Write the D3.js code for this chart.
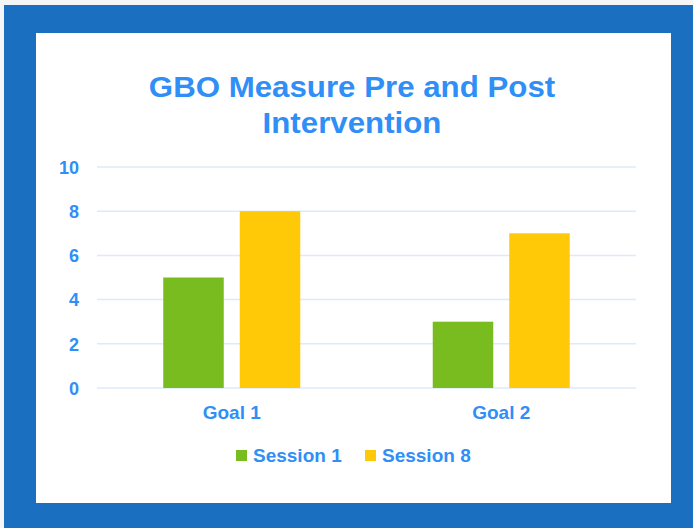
<!DOCTYPE html>
<html><head><meta charset="utf-8">
<script src="https://cdn.jsdelivr.net/npm/d3@7"></script>
<style>html,body{margin:0;padding:0;background:#f3f5f7;}svg{display:block;}</style>
</head><body>
<script>
const categories = ["Goal 1", "Goal 2"];
const seriesNames = ["Session 1", "Session 8"];
const session1 = [5, 3];
const session8 = [8, 7];
const yTicks = [0, 2, 4, 6, 8, 10];
const colors = ["#78BC20", "#FFC907"];
const titleLines = ["GBO Measure Pre and Post", "Intervention"];

const W = 693, H = 528;
const textBlue = "#2F8FF7";
const font = "'Liberation Sans', Arial, sans-serif";
const svg = d3.select("body").append("svg").attr("width", W).attr("height", H);

svg.append("rect").attr("x", 4).attr("y", 5).attr("width", W - 4).attr("height", H - 5).attr("fill", "#1B6FC1");
svg.append("rect").attr("x", 36).attr("y", 33).attr("width", 635).attr("height", 470).attr("fill", "#ffffff");

svg.append("g").attr("transform", "translate(352,0) scale(1.06,1)")
  .selectAll("text.title").data(titleLines).enter().append("text")
  .attr("x", 0).attr("y", (d, i) => 97 + i * 36)
  .attr("text-anchor", "middle").attr("font-family", font).attr("font-weight", "bold")
  .attr("font-size", 29.5).attr("fill", textBlue).text(d => d);

const x0 = d3.scaleBand().domain(categories).range([97, 636]);
const y = d3.scaleLinear().domain([0, 10]).range([388, 167]);
const barW = 60.5, gap = 16;
const x1 = d3.scaleOrdinal().domain(seriesNames).range([-(gap / 2 + barW), gap / 2]);

svg.selectAll("line.grid").data(yTicks).enter().append("line")
  .attr("x1", 97).attr("x2", 636).attr("y1", d => y(d)).attr("y2", d => y(d))
  .attr("stroke", "#DCEBFA").attr("stroke-width", 1.5);

const yAxis = d3.axisLeft(y).tickValues(yTicks).tickSize(0).tickPadding(0);
const ga = svg.append("g").attr("transform", "translate(79,0)").call(yAxis);
ga.select(".domain").remove();
ga.selectAll("text").attr("font-family", font).attr("font-weight", "bold").attr("font-size", 18)
  .attr("fill", textBlue).attr("dy", "0.35em");

const data = [session1, session8];
seriesNames.forEach((s, si) => {
  svg.selectAll("rect.s" + si).data(categories).enter().append("rect")
    .attr("x", (c) => x0(c) + x0.bandwidth() / 2 + x1(s))
    .attr("y", (c, i) => y(data[si][i]))
    .attr("width", barW)
    .attr("height", (c, i) => y(0) - y(data[si][i]))
    .attr("fill", colors[si]);
});

const xAxis = d3.axisBottom(x0).tickSize(0).tickPadding(0);
const gx = svg.append("g").attr("transform", "translate(0,419)").call(xAxis);
gx.select(".domain").remove();
gx.selectAll("text").attr("font-family", font).attr("font-weight", "bold").attr("font-size", 19)
  .attr("fill", textBlue).attr("dy", 0);

const legendX = [236, 365];
const lg = svg.selectAll("g.leg").data(seriesNames).enter().append("g")
  .attr("transform", (d, i) => `translate(${legendX[i]},450)`);
lg.append("rect").attr("width", 11).attr("height", 11).attr("fill", (d, i) => colors[i]);
lg.append("text").attr("x", 17).attr("y", 12).attr("font-family", font).attr("font-weight", "bold")
  .attr("font-size", 19).attr("fill", textBlue).text(d => d);
</script>
</body></html>
